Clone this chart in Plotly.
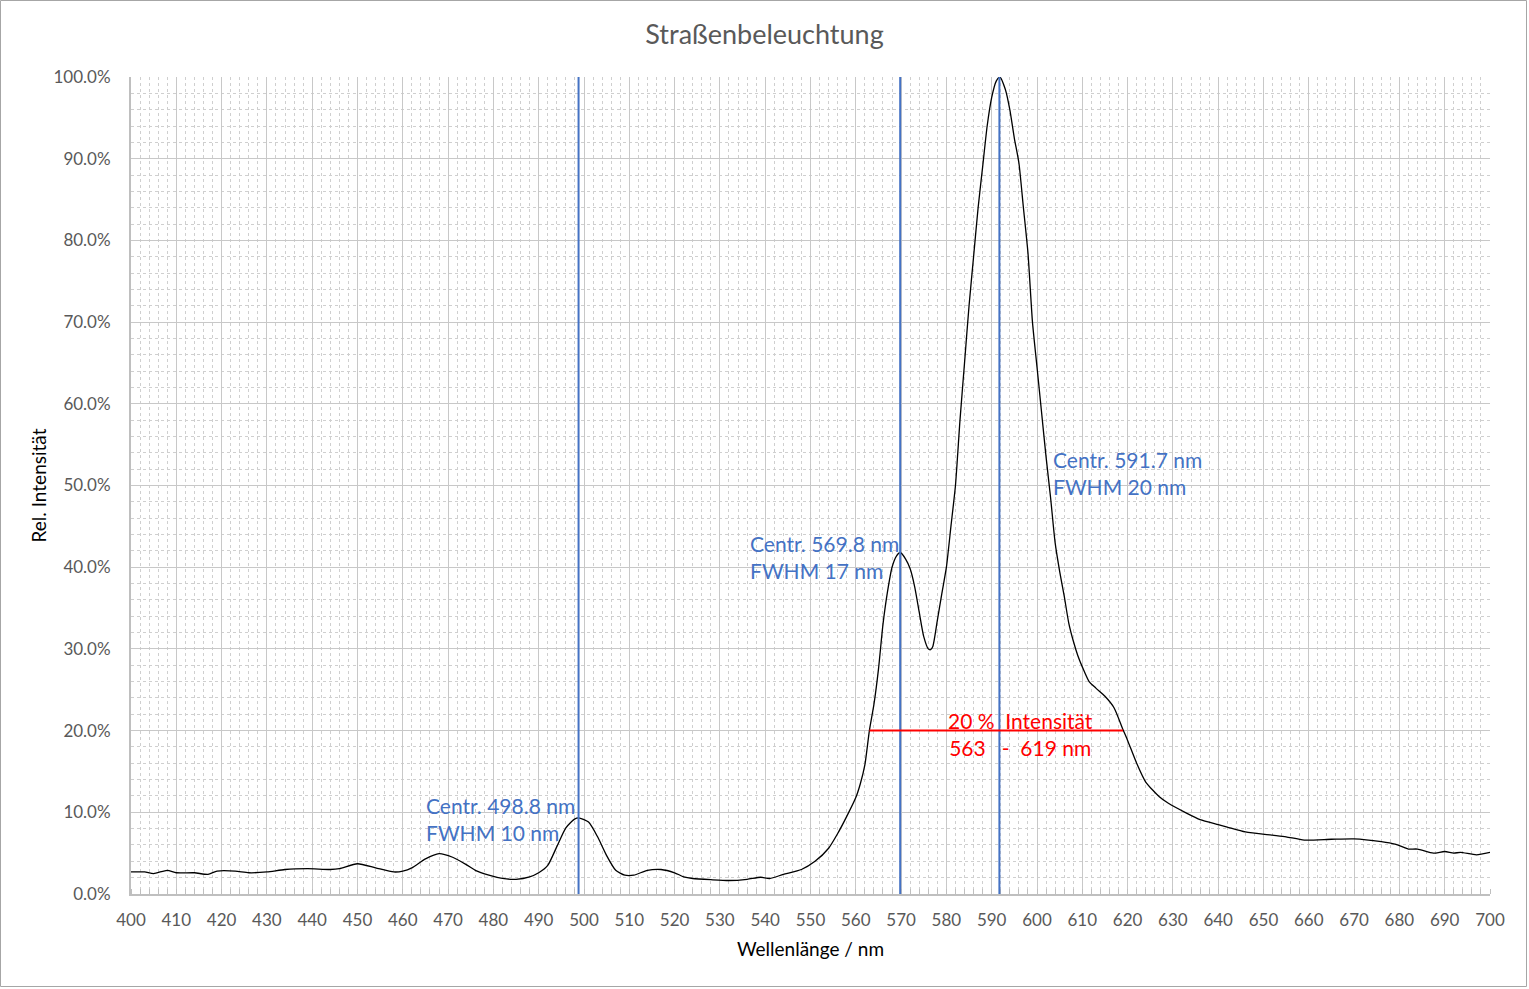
import plotly.graph_objects as go

# Spectrum data (wavelength in nm, relative intensity in %)
wavelength = [400, 403, 405, 408, 410, 414, 417, 419, 423, 426, 430, 434, 439, 444, 446,
              450, 454, 458, 460, 462, 465, 468, 471, 474, 476, 479, 482, 485, 488, 490,
              492, 494, 496, 498, 499, 501, 503, 505, 507, 509, 511, 514, 517, 520, 522,
              524, 528, 532, 536, 539, 541, 544, 548, 551, 554, 556, 558, 560, 561, 562,
              563, 564, 565, 566, 567, 568, 569, 569.8, 571, 572, 573, 574, 575, 576, 576.5,
              577, 578, 579, 580, 581, 582, 583, 584, 585, 586, 587, 588, 589, 590, 591,
              591.8, 593, 594, 595, 596, 597, 598, 599, 600, 601, 602, 603, 604, 605, 606,
              607, 608, 609, 610, 611.5, 613, 615, 617, 619, 620, 622, 624, 627, 629, 633,
              636, 640, 642, 646, 652, 655, 659, 665, 670, 676, 679, 681, 682, 684, 687.5,
              690, 692, 693.5, 697, 700]
intensity = [2.7, 2.7, 2.5, 2.9, 2.6, 2.6, 2.4, 2.8, 2.8, 2.6, 2.7, 3.0, 3.1, 3.0, 3.1,
             3.7, 3.2, 2.7, 2.8, 3.2, 4.3, 4.95, 4.5, 3.6, 2.9, 2.3, 1.9, 1.8, 2.1, 2.6,
             3.5, 5.8, 8.1, 9.2, 9.3, 8.8, 7.0, 4.7, 2.9, 2.3, 2.3, 2.9, 3.0, 2.6, 2.1,
             1.9, 1.75, 1.65, 1.8, 2.05, 1.9, 2.4, 3.0, 4.0, 5.6, 7.4, 9.5, 11.8, 13.5, 15.8,
             20.0, 23.2, 27.5, 33.0, 37.0, 40.0, 41.4, 41.8, 41.0, 39.8, 37.6, 34.5, 31.5, 30.0, 29.9,
             30.3, 33.5, 36.8, 40.0, 45.0, 50.0, 58.0, 65.0, 72.0, 78.0, 84.0, 89.0, 94.0, 97.5, 99.5,
             100.0, 98.5, 96.0, 92.5, 89.5, 84.0, 78.5, 70.0, 64.5, 59.0, 53.5, 48.5, 43.0, 39.5, 36.5,
             33.2, 31.0, 29.2, 27.8, 26.0, 25.2, 24.2, 22.8, 20.1, 18.8, 16.0, 13.7, 11.9, 11.1, 9.9,
             9.1, 8.5, 8.2, 7.6, 7.2, 7.0, 6.6, 6.7, 6.75, 6.4, 6.1, 5.7, 5.5, 5.5, 5.0,
             5.2, 5.0, 5.1, 4.8, 5.1]

# Peak markers
peak_centres = [498.8, 569.8, 591.7]
peak_fwhm = [10, 17, 20]
band_lo, band_hi, band_level = 563, 619, 20

x_ticks = list(range(400, 701, 10))
y_ticks = list(range(0, 101, 10))

BLUE = "#4472C4"
FONT = "Lato, 'Open Sans', sans-serif"

fig = go.Figure()
fig.add_trace(go.Scatter(x=wavelength, y=intensity, mode="lines",
                         line=dict(color="black", width=1.3, shape="spline", smoothing=0.6),
                         hoverinfo="x+y", showlegend=False))

# vertical peak lines
for c in peak_centres:
    fig.add_shape(type="line", x0=c, x1=c, y0=0, y1=100, xref="x", yref="y",
                  line=dict(color=BLUE, width=2))

# 20 % band line
fig.add_shape(type="line", x0=band_lo, x1=band_hi, y0=band_level, y1=band_level,
              xref="x", yref="y", line=dict(color="red", width=2))

# peak label placement (nm, %) for the text block's left/middle
label_anchor = [(464.7, 9.2), (536.2, 41.25), (603.1, 51.5)]
for (ax, ay), c, f in zip(label_anchor, peak_centres, peak_fwhm):
    fig.add_annotation(x=ax, y=ay, xref="x", yref="y", xanchor="left", yanchor="middle",
                       text=f"Centr. {c} nm<br>FWHM {f} nm", showarrow=False, align="left",
                       font=dict(family=FONT, size=21, color=BLUE))

fig.add_annotation(x=596.3, y=19.6, xref="x", yref="y",
                   xanchor="center", yanchor="middle", align="center",
                   text=f"{band_level} %  Intensität<br>{band_lo}   -  {band_hi} nm",
                   showarrow=False, font=dict(family=FONT, size=21, color="red"))

# outer chart border
W, H = 1529, 989
L, R, T, B = 131, 39, 77, 95
pw, ph = W - L - R, H - T - B
fig.add_shape(type="rect", xref="paper", yref="paper",
              x0=-(L - 0.5) / pw, x1=1 + (R - 2.5) / pw, y0=-(B - 2.5) / ph, y1=1 + (T - 0.5) / ph,
              line=dict(color="#a6a6a6", width=1), layer="below")

fig.update_layout(
    width=W, height=H,
    margin=dict(l=L, r=R, t=T, b=B),
    paper_bgcolor="white", plot_bgcolor="white",
    font=dict(family=FONT, color="#595959"),
    title=dict(text="Straßenbeleuchtung", x=0.5, xref="container", xanchor="center",
               y=1 - 35 / H, yref="container", yanchor="middle",
               font=dict(family=FONT, size=27, color="#595959")),
)
fig.update_xaxes(range=[400, 700], tickvals=x_ticks, ticks="", showline=True,
                 linecolor="#bfbfbf", linewidth=2, showgrid=True, gridcolor="#c8c8c8",
                 gridwidth=1, zeroline=False, tickfont=dict(size=17, color="#595959"),
                 ticklabelstandoff=10,
                 minor=dict(dtick=2, tick0=400, showgrid=True, gridcolor="#cfcfcf",
                            griddash="dot", ticks="inside", ticklen=5, tickcolor="#bfbfbf"),
                 title=dict(text="Wellenlänge / nm", font=dict(size=19, color="black"), standoff=13))
fig.update_yaxes(range=[0, 100], tickvals=y_ticks, ticktext=[f"{v:.1f}%" for v in y_ticks],
                 showline=True, linecolor="#bfbfbf", linewidth=2, showgrid=True,
                 gridcolor="#c8c8c8", gridwidth=1, zeroline=False,
                 tickfont=dict(size=17, color="#595959"), ticklabelstandoff=15,
                 minor=dict(dtick=2, tick0=0, showgrid=True, gridcolor="#cfcfcf", griddash="dot"),
                 title=dict(text="Rel. Intensität", font=dict(size=19, color="black"), standoff=2))

fig.write_html("out.html")
